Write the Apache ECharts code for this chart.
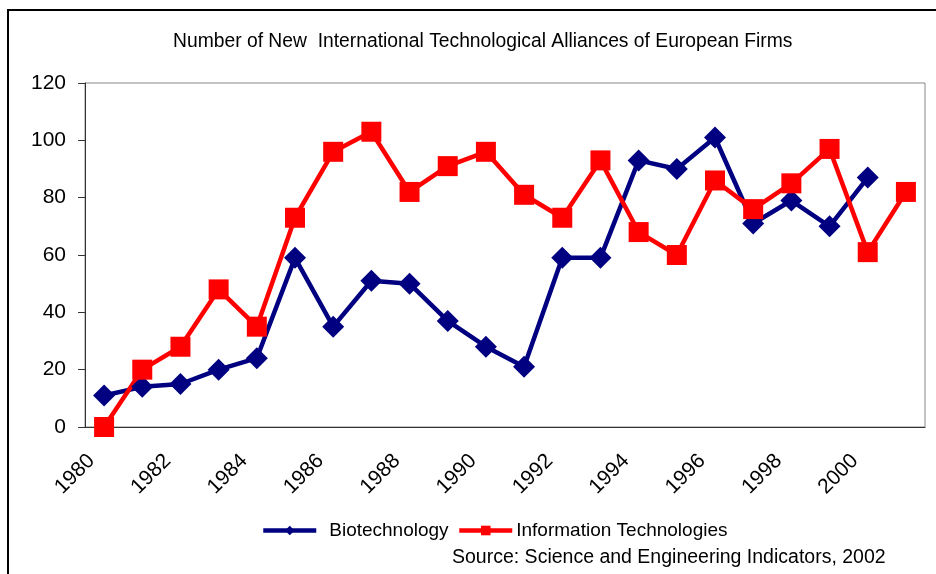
<!DOCTYPE html>
<html>
<head>
<meta charset="utf-8">
<script src="https://cdn.jsdelivr.net/npm/echarts@6/dist/echarts.min.js"></script>
<style>
  html, body { margin: 0; padding: 0; background: #fff; }
  #chart { width: 936px; height: 574px; }
</style>
</head>
<body>
<div id="chart"></div>
<script>
// values
const years = ['1980', '1981', '1982', '1983', '1984', '1985', '1986', '1987', '1988', '1989', '1990',
    '1991', '1992', '1993', '1994', '1995', '1996', '1997', '1998', '1999', '2000', '2001'];
const biotech = [11, 14, 15, 20, 24, 59, 35, 51, 50, 37, 28, 21, 59, 59, 93, 90, 101, 71, 79, 70, 87, null];
const infoTech = [0, 20, 28, 48, 35, 73, 96, 103, 82, 91, 96, 81, 73, 93, 68, 60, 86, 76, 85, 97, 61, 82];

const chart = echarts.init(document.getElementById('chart'));
const font = 'Liberation Sans, Arial, sans-serif';
const legendText = { fontSize: 19, color: '#000', fontFamily: font };

const option = {
    animation: false,
    textStyle: { fontFamily: font },
    title: {
        text: 'Number of New  International Technological Alliances of European Firms',
        left: 168,
        top: 27,
        textStyle: { fontSize: 19.3, fontWeight: 'normal', color: '#000', fontFamily: font },
    },
    graphic: [
        { type: 'rect', shape: { x: 8, y: 10, width: 940, height: 580 }, style: { fill: 'none', stroke: '#000', lineWidth: 2 } },
        {
            type: 'text', left: 452, top: 548,
            style: { text: 'Source: Science and Engineering Indicators, 2002', fontSize: 19.5, fontFamily: font, fill: '#000' },
        },
    ],
    legend: [
        {
            top: 516, left: 256,
            itemWidth: 53, itemHeight: 12,
            lineStyle: { width: 4.5 },
            textStyle: Object.assign({ padding: [0, 0, 0, 8] }, legendText),
            data: ['Biotechnology'],
        },
        {
            top: 516, left: 452,
            itemWidth: 53, itemHeight: 12,
            lineStyle: { width: 4.5 },
            textStyle: Object.assign({ padding: [0, 0, 0, -1] }, legendText),
            data: ['Information Technologies'],
        },
    ],
    grid: {
        left: 85, right: 11, top: 83, bottom: 147,
        show: true, borderColor: '#888', borderWidth: 1, backgroundColor: '#fff',
    },
    xAxis: {
        type: 'category',
        data: years,
        boundaryGap: true,
        axisLine: { lineStyle: { color: '#333', width: 1 } },
        axisTick: { interval: 0, length: 6, lineStyle: { color: '#333' } },
        axisLabel: { interval: 1, rotate: 45, fontSize: 21, color: '#000', margin: 18, padding: [0, 18, 0, 0] },
        splitLine: { show: false },
    },
    yAxis: {
        type: 'value',
        min: 0, max: 120, interval: 20,
        axisLine: { show: true, lineStyle: { color: '#333', width: 1 } },
        axisTick: { show: true, length: 7, lineStyle: { color: '#333' } },
        axisLabel: { fontSize: 21, color: '#000', margin: 19 },
        splitLine: { show: false },
    },
    series: [
        {
            name: 'Biotechnology',
            type: 'line',
            data: biotech,
            symbol: 'diamond',
            symbolSize: 22,
            color: '#000080',
            lineStyle: { width: 4.5, color: '#000080' },
            itemStyle: { color: '#000080' },
        },
        {
            name: 'Information Technologies',
            type: 'line',
            data: infoTech,
            symbol: 'rect',
            symbolSize: 20,
            color: '#ff0000',
            lineStyle: { width: 4.5, color: '#ff0000' },
            itemStyle: { color: '#ff0000' },
        },
    ],
};
chart.setOption(option);
</script>
</body>
</html>
